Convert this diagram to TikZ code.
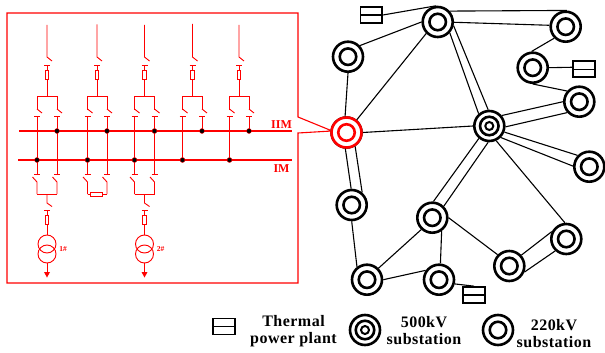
\documentclass[tikz,border=0pt]{standalone}
\usepackage{fontspec}
\setmainfont{Liberation Serif}
\newfontfamily\legfont[LetterSpace=3]{Liberation Serif}
\begin{document}
\begin{tikzpicture}[x=1pt,y=-1pt,
  ringbig/.style={circle,draw=black,fill=white,line width=2.6pt,minimum size=30pt,inner sep=0pt},
  ringmid/.style={circle,draw=black,fill=white,line width=2.6pt,minimum size=16.5pt,inner sep=0pt},
  ringsmall/.style={circle,draw=black,fill=white,line width=2pt,minimum size=8pt,inner sep=0pt},
  link/.style={line width=1.1pt,black},
  plantbox/.style={draw=black,fill=white,line width=1.7pt,minimum width=21.5pt,minimum height=16pt,inner sep=0pt,
    path picture={\draw[black,line width=1.5pt] (path picture bounding box.west) -- (path picture bounding box.east);}},
  rl/.style={red,line width=0.9pt},
  bus/.style={red,line width=1.2pt},
  dotj/.style={circle,fill=black,draw=red,line width=0.4pt,minimum size=5pt,inner sep=0pt},
  fuse/.style={draw=red,fill=white,line width=0.9pt,minimum width=3.5pt,minimum height=9pt,inner sep=0pt},
  fuseh/.style={draw=red,fill=white,line width=1pt,minimum width=12pt,minimum height=4.5pt,inner sep=0pt},
  busname/.style={red,font=\bfseries\fontsize{12}{12}\selectfont,inner sep=0pt},
  tname/.style={red,font=\bfseries\fontsize{7.5}{8}\selectfont,inner sep=0pt},
  legendtext/.style={align=center,inner sep=0pt,font=\legfont\bfseries\fontsize{16}{17}\selectfont}]
\useasboundingbox (0,0) rectangle (605,353);
\newcommand\ssB[2]{\node[ringbig] (#1) at (#2) {}; \node[ringmid] (#1i) at (#2) {};}
\newcommand\ssH[2]{\node[ringbig] (#1) at (#2) {}; \node[ringmid,minimum size=18.5pt] (#1i) at (#2) {}; \node[ringsmall] (#1j) at (#2) {};}
% upper part of a bay: centre, left, right, top
\newcommand\baytop[4]{%
  \draw[rl] (#1,#4) -- (#1,57) -- ({#1+5},61);
  \draw[rl] ({#1-3},65.5) -- ({#1+3},65.5);
  \draw[rl] (#1,65.5) -- (#1,96);
  \node[fuse] (fu#1) at (#1,74.5) {};
  \draw[rl] (#2,110) -- (#2,96) -- (#3,96) -- (#3,110);
  \draw[rl] (#2,109) -- ({#2+5},113);
  \draw[rl] (#3,109) -- ({#3+5},113);
  \draw[rl] ({#2-3},116.5) -- ({#2+3},116.5);
  \draw[rl] ({#3-3},116.5) -- ({#3+3},116.5);}
\newcommand\baylow[2]{%
  \draw[rl] ({#1-3},174) -- ({#1+3},174);
  \draw[rl] ({#2-3},174) -- ({#2+3},174);
  \draw[rl] ({#1-4.5},177) -- (#1,182) -- (#1,194);
  \draw[rl] ({#2-4.5},177) -- (#2,182) -- (#2,194);}
\newcommand\bayfeed[3]{% centre, transformer label, name
  \draw[rl] (#1,194) -- (#1,203) -- ({#1+5},206.5);
  \draw[rl] ({#1-3},210.5) -- ({#1+3},210.5);
  \draw[rl] (#1,210.5) -- (#1,235);
  \node[fuse] (fl#1) at (#1,220) {};
  \draw[rl] (#1,244) circle[radius=9pt];
  \draw[rl] (#1,254) circle[radius=9pt];
  \draw[rl] (#1,263) -- (#1,272);
  \fill[red] ({#1-3},272) -- ({#1+3},272) -- (#1,277.5) -- cycle;
  \node[tname] (#3) at ({#1+16},249) {#2};}
% red frame
\ssB{red}{346.5,132.5}
\draw[rl,line width=1.1pt,red,draw=red] (red.175) -- (298,133) -- (298,283) -- (7,283) -- (7,13) -- (298,13) -- (298,117) -- (red.172);
\node[ringbig,draw=red] (redo) at (346.5,132.5) {};
\node[ringmid,draw=red] (redi) at (346.5,132.5) {};
% busbars
\draw[bus] (19,131) -- (292,131);
\draw[bus] (18,160) -- (292,160);
\node[busname,anchor=base] (iim) at (281.5,128) {IIM};
\node[busname,anchor=base] (im) at (281.5,172) {IM};
% bays
\baytop{47}{37}{57}{25}
\baytop{97}{87.5}{107}{24.5}
\baytop{144.5}{134.5}{154.5}{25}
\baytop{192.5}{182.5}{202}{24}
\baytop{239}{229.5}{249}{25}
\foreach \xa in {37,57,87.5,107,134.5,154.5} \draw[rl] (\xa,116.5) -- (\xa,174);
\draw[rl] (182.5,116.5) -- (182.5,160);
\draw[rl] (229.5,116.5) -- (229.5,160);
\draw[rl] (202,116.5) -- (202,131);
\draw[rl] (249,116.5) -- (249,131);
\foreach \xa in {57,107,154.5,202,249} \node[dotj] at (\xa,131) {};
\foreach \xa in {37,87.5,134.5,182.5,229.5} \node[dotj] at (\xa,160) {};
\baylow{37}{57}
\draw[rl] (37,194) -- (57,194);
\baylow{87.5}{107}
\draw[rl] (87.5,194.5) -- (107,194.5);
\node[fuseh] (fh) at (96.7,194.5) {};
\baylow{134.5}{154.5}
\draw[rl] (134.5,194) -- (154.5,194);
\bayfeed{47}{1\#}{tone}
\bayfeed{144.5}{2\#}{ttwo}
% network
\ssB{top}{437.7,22}
\ssB{tr}{565.7,26.7}
\ssB{rb}{532.7,67.7}
\ssB{rc}{579.3,101.7}
\ssH{hub}{489.3,126}
\ssB{rd}{589.3,166.7}
\ssB{tl}{348,56.7}
\ssB{lo}{351.7,205}
\ssB{mid}{432.3,217.7}
\ssB{bra}{566.3,239}
\ssB{brb}{509.3,266}
\ssB{bla}{367,279.7}
\ssB{blb}{439,279.7}
\node[plantbox] (p1) at (371.3,15) {};
\node[plantbox] (p2) at (584,69.3) {};
\node[plantbox] (p3) at (474,295) {};
\draw[link] (p1.east) -- (top.95);
\draw[link] (p2.170) -- (rb.0);
\draw[link] (p3.north) -- (blb.-15);
\draw[link] (top.42) -- (tr.86);
\draw[link] (top.-1) -- (tr.175);
\draw[link] (top.180) -- (tl.43);
\draw[link] (top.225) -- (red.51);
\draw[link] (top.-42) -- (hub.131);
\draw[link] (top.-13) -- (hub.94);
\draw[link] (tr.225) -- (rb.94);
\draw[link] (rb.270) -- (rc.139);
\draw[link] (rc.180) -- (hub.40);
\draw[link] (rc.222) -- (hub.-3);
\draw[link] (hub.-22) -- (rd.136);
\draw[link] (hub.-45) -- (rd.178);
\draw[link] (red.0) -- (hub.180);
\draw[link] (tl.270) -- (red.95);
\draw[link] (red.266) -- (lo.92);
\draw[link] (red.-58) -- (lo.50);
\draw[link] (lo.270) -- (bla.128);
\draw[link] (bla.45) -- (mid.227);
\draw[link] (bla.0) -- (blb.145);
\draw[link] (mid.-55) -- (blb.85);
\draw[link] (mid.0) -- (brb.136);
\draw[link] (brb.42) -- (bra.153);
\draw[link] (brb.-22) -- (bra.227);
\draw[link] (hub.-65) -- (bra.95);
\draw[link] (hub.230) -- (mid.86);
\draw[link] (hub.266) -- (mid.45);
% legend
\node[plantbox] (lp) at (224,326.5) {};
\node[legendtext] (lt1) at (293.5,331) {Thermal\\power plant};
\ssH{lh}{365,330}
\node[legendtext] (lt2) at (424,331) {500kV\\substation};
\ssB{lb}{498,330}
\node[legendtext] (lt3) at (554,334) {220kV\\substation};
\end{tikzpicture}
\end{document}
